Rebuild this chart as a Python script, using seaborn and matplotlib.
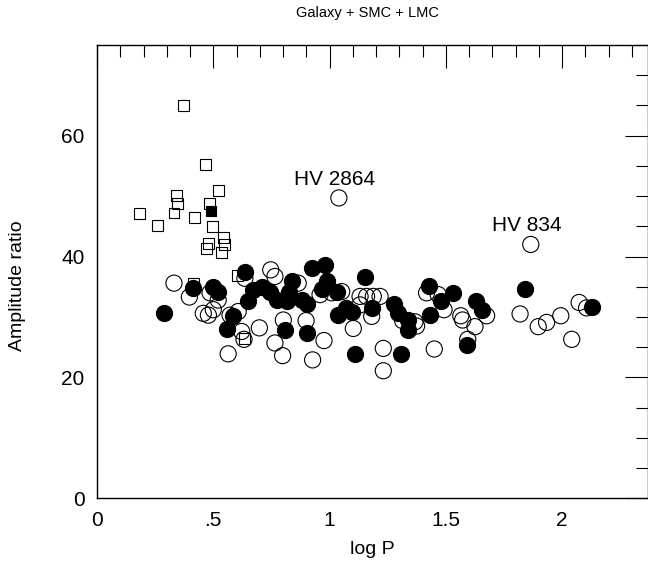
import numpy as np
import pandas as pd
import seaborn as sns
import matplotlib
matplotlib.use("Agg")
import matplotlib.pyplot as plt
from matplotlib.ticker import MultipleLocator

# open squares
sq_open_x = [0.371, 0.467, 0.521, 0.343, 0.347, 0.483, 0.331, 0.182, 0.421, 0.261,
             0.497, 0.543, 0.480, 0.547, 0.472, 0.536, 0.414, 0.605, 0.636]
sq_open_y = [65.0, 55.3, 50.9, 50.1, 48.8, 48.7, 47.2, 47.1, 46.4, 45.1,
             44.9, 43.1, 42.1, 42.0, 41.3, 40.6, 35.6, 36.8, 26.4]

# filled square
sq_fill_x = [0.492]
sq_fill_y = [47.5]

# open circles
ci_open_x = [0.331, 0.397, 0.486, 0.521, 0.479, 0.500, 0.457, 0.572, 0.607, 0.622,
             0.632, 0.564, 0.698, 0.747, 0.765, 0.636, 0.801, 0.765, 0.798, 0.865,
             0.899, 0.927, 0.976, 0.959, 1.009, 1.052, 1.102, 1.131, 1.159, 1.188,
             1.217, 1.131, 1.181, 1.231, 1.231, 1.314, 1.367, 1.374, 1.417, 1.467,
             1.492, 1.450, 1.564, 1.572, 1.625, 1.594, 1.675, 1.819, 1.897, 1.933,
             1.994, 2.041, 2.073, 2.105, 1.865, 1.040]
ci_open_y = [35.6, 33.3, 34.0, 32.8, 30.3, 31.2, 30.6, 30.3, 30.9, 27.6,
             26.3, 23.9, 28.2, 37.8, 36.7, 36.4, 29.5, 25.7, 23.6, 35.6,
             29.4, 22.9, 26.1, 33.7, 34.0, 34.2, 28.1, 33.4, 33.4, 33.4,
             33.4, 32.0, 30.1, 24.8, 21.1, 29.4, 29.2, 28.5, 34.0, 33.7,
             31.2, 24.7, 30.2, 29.5, 28.4, 26.3, 30.2, 30.5, 28.4, 29.1,
             30.2, 26.3, 32.4, 31.5, 42.0, 49.7]

# filled circles
ci_fill_x = [0.288, 0.411, 0.500, 0.521, 0.586, 0.560, 0.636, 0.650, 0.672, 0.708,
             0.744, 0.773, 0.816, 0.837, 0.827, 0.808, 0.880, 0.902, 0.904, 0.923,
             0.980, 0.990, 0.966, 1.031, 1.037, 1.071, 1.096, 1.152, 1.181, 1.109,
             1.277, 1.295, 1.338, 1.338, 1.307, 1.429, 1.432, 1.478, 1.532, 1.629,
             1.654, 1.589, 1.840, 2.127]
ci_fill_y = [30.6, 34.8, 34.9, 34.2, 30.1, 28.0, 37.4, 32.6, 34.5, 35.0,
             34.2, 32.8, 32.6, 35.9, 34.2, 27.9, 32.8, 32.1, 27.3, 38.1,
             38.6, 36.0, 34.6, 34.2, 30.3, 31.5, 30.8, 36.6, 31.5, 23.9,
             32.2, 30.7, 29.5, 27.9, 23.9, 35.2, 30.3, 32.7, 33.9, 32.7,
             31.2, 25.4, 34.7, 31.6]

labels = ["HV 2864", "HV 834"]
label_x = [1.023, 1.849]
label_y = [52.7, 45.2]

xticks = [0, 0.5, 1, 1.5, 2]
xticklabels = ["0", ".5", "1", "1.5", "2"]
yticks = [0, 20, 40, 60]

sns.set_style("white")
plt.rcParams['font.family'] = ['Liberation Sans', 'DejaVu Sans']
plt.rcParams['text.color'] = 'black'
plt.rcParams['axes.labelcolor'] = 'black'
plt.rcParams['xtick.color'] = 'black'
plt.rcParams['ytick.color'] = 'black'

fig = plt.figure(figsize=(6.48, 5.68), dpi=100)
ax = fig.add_axes([97 / 648, 69.7 / 568, 551 / 648, 453.3 / 568])

sns.scatterplot(x=sq_open_x, y=sq_open_y, marker="s", s=62, color="black",
                facecolor="none", edgecolor="black", linewidth=0.8, ax=ax, zorder=3)
sns.scatterplot(x=sq_fill_x, y=sq_fill_y, marker="s", s=62, color="black",
                edgecolor="black", linewidth=0.8, ax=ax, zorder=3)
sns.scatterplot(x=ci_open_x, y=ci_open_y, marker="o", s=135, color="black",
                facecolor="none", edgecolor="black", linewidth=0.8, ax=ax, zorder=4)
sns.scatterplot(x=ci_fill_x, y=ci_fill_y, marker="o", s=135, color="black",
                edgecolor="black", linewidth=0.8, ax=ax, zorder=5)

for t, tx, ty in zip(labels, label_x, label_y):
    ax.text(tx, ty, t, ha="center", va="center", fontsize=15, color="black")

ax.set_xlim(0, 2.369)
ax.set_ylim(0, 75)
ax.set_xticks(xticks)
ax.set_xticklabels(xticklabels)
ax.set_yticks(yticks)
ax.xaxis.set_minor_locator(MultipleLocator(0.1))
ax.yaxis.set_minor_locator(MultipleLocator(5))
ax.tick_params(which="both", direction="in", top=True, right=True,
               width=0.8, color="black", labelcolor="black", labelsize=15)
ax.tick_params(which="major", length=16.5)
ax.tick_params(which="minor", length=8.5)
ax.tick_params(axis="x", pad=9)
ax.tick_params(axis="y", pad=9)
for sp in ax.spines.values():
    sp.set_color("black")
    sp.set_linewidth(1.0)

ax.set_xlabel("log P", fontsize=14)
ax.set_ylabel("Amplitude ratio", fontsize=14)
ax.xaxis.set_label_coords(0.5, -0.114)
ax.xaxis.label.set_va("center")
ax.yaxis.set_label_coords(-0.145, 0.468)
ax.yaxis.label.set_va("center")

fig.text(367 / 648, 1 - 13 / 568, "Galaxy + SMC + LMC", ha="center", va="center",
         fontsize=10.5, color="black")

fig.savefig("out.png", dpi=100)
